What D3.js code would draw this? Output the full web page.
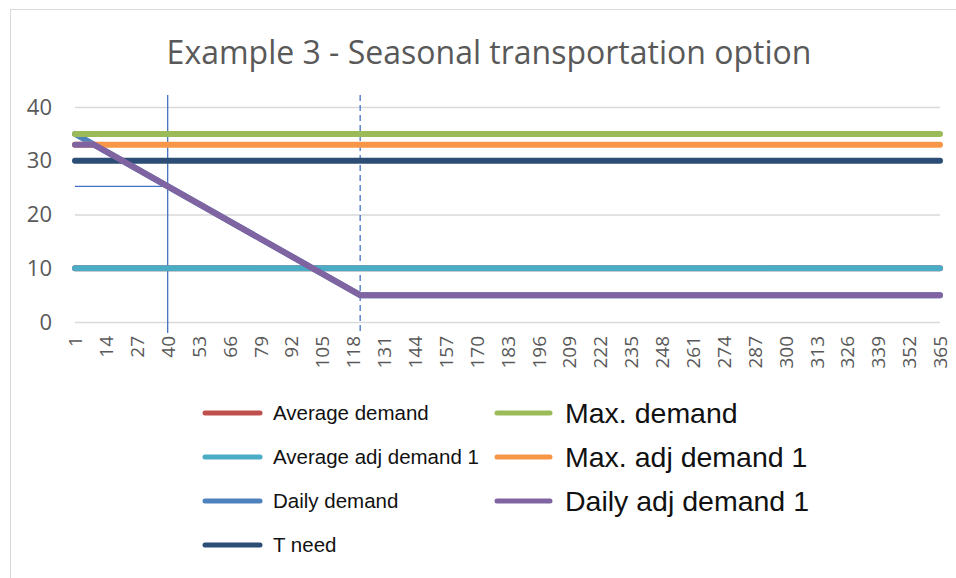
<!DOCTYPE html>
<html>
<head>
<meta charset="utf-8">
<script src="https://cdn.jsdelivr.net/npm/d3@7"></script>
<style>
  body { margin: 0; background: #fff; }
  svg { display: block; }
</style>
</head>
<body>
<div id="chart"></div>
<script>
// Chart values
var title = "Example 3 - Seasonal transportation option";
var xTicks = [1, 14, 27, 40, 53, 66, 79, 92, 105, 118, 131, 144, 157, 170, 183, 196, 209, 222,
              235, 248, 261, 274, 287, 300, 313, 326, 339, 352, 365];
var yTicks = [0, 10, 20, 30, 40];

// series as [day, value] breakpoints
var averageDemand = [[1, 10], [365, 10]];
var averageAdjDemand = [[1, 10], [365, 10]];
var dailyDemand = [[1, 35], [121, 5], [365, 5]];
var tNeed = [[1, 30], [365, 30]];
var maxDemand = [[1, 35], [365, 35]];
var maxAdjDemand = [[1, 33], [365, 33]];
var dailyAdjDemand = [[1, 33], [9, 33], [121, 5], [365, 5]];

// marker lines
var markerDay = 40, markerValue = 25.25, switchDay = 121;

var series = [
  {name: "Average demand", color: "#C0504D", data: averageDemand, big: false},
  {name: "Average adj demand 1", color: "#4BACC6", data: averageAdjDemand, big: false},
  {name: "Daily demand", color: "#4F81BD", data: dailyDemand, big: false},
  {name: "T need", color: "#2C4D75", data: tNeed, big: false},
  {name: "Max. demand", color: "#9BBB59", data: maxDemand, big: true},
  {name: "Max. adj demand 1", color: "#F79646", data: maxAdjDemand, big: true},
  {name: "Daily adj demand 1", color: "#8064A2", data: dailyAdjDemand, big: true}
];

var w = 956, h = 578;
var margin = {top: 107, right: 16, bottom: 256, left: 75};
var width = w - margin.left - margin.right;
var height = h - margin.top - margin.bottom;

var svg = d3.select("#chart").append("svg")
  .attr("width", w)
  .attr("height", h);

// chart border
svg.append("rect")
  .attr("x", 10.5).attr("y", 9.5)
  .attr("width", 960).attr("height", 600)
  .attr("fill", "#fff")
  .attr("stroke", "#d9d9d9");

svg.append("text")
  .attr("x", 489).attr("y", 64)
  .attr("text-anchor", "middle")
  .attr("font-family", "Open Sans")
  .attr("font-size", "32px")
  .attr("fill", "#595959")
  .text(title);

var g = svg.append("g")
  .attr("transform", "translate(" + margin.left + "," + margin.top + ")");

var x = d3.scaleLinear().domain([1, 365]).range([0, width]);
var y = d3.scaleLinear().domain([0, 40]).range([height, 0]);

// gridlines
g.append("g")
  .call(d3.axisLeft(y).tickValues(yTicks).tickSize(-width).tickFormat(""))
  .call(function(a) {
    a.select(".domain").remove();
    a.selectAll("line").attr("stroke", "#d9d9d9").attr("stroke-width", 1.5);
  });

// y labels
g.append("g")
  .call(d3.axisLeft(y).tickValues(yTicks).tickSize(0).tickPadding(23))
  .call(function(a) {
    a.select(".domain").remove();
    a.selectAll("text")
      .attr("font-family", "Open Sans")
      .attr("font-size", "22px")
      .attr("fill", "#595959");
  });

// x labels
g.append("g")
  .attr("transform", "translate(0," + height + ")")
  .call(d3.axisBottom(x).tickValues(xTicks).tickSize(0).tickFormat(d3.format("d")))
  .call(function(a) {
    a.select(".domain").remove();
    a.selectAll("text")
      .attr("font-family", "Open Sans")
      .attr("font-size", "19px")
      .attr("fill", "#595959")
      .attr("transform", "rotate(-90)")
      .attr("x", -14)
      .attr("y", 0)
      .attr("dy", "0.35em")
      .style("text-anchor", "end");
  });

var line = d3.line()
  .x(function(d) { return x(d[0]); })
  .y(function(d) { return y(d[1]); });

// marker lines
g.append("line")
  .attr("x1", x(1)).attr("x2", x(markerDay))
  .attr("y1", y(markerValue)).attr("y2", y(markerValue))
  .attr("stroke", "#4472C4").attr("stroke-width", 1.3);

g.append("line")
  .attr("x1", x(markerDay)).attr("x2", x(markerDay))
  .attr("y1", -12).attr("y2", height + 11)
  .attr("stroke", "#4472C4").attr("stroke-width", 1.3);

g.append("line")
  .attr("x1", x(switchDay)).attr("x2", x(switchDay))
  .attr("y1", -12).attr("y2", height + 11)
  .attr("stroke", "#4472C4").attr("stroke-width", 1.3)
  .attr("stroke-dasharray", "6,4");

// series
g.selectAll(".series")
  .data(series)
  .enter()
  .append("path")
    .attr("class", "series")
    .attr("d", function(d) { return line(d.data); })
    .attr("fill", "none")
    .attr("stroke", function(d) { return d.color; })
    .attr("stroke-width", 6)
    .attr("stroke-linecap", "round")
    .attr("stroke-linejoin", "round");

// legend
var legend = svg.selectAll(".legend")
  .data(series)
  .enter()
  .append("g")
    .attr("class", "legend")
    .attr("transform", function(d, i) {
      return i < 4 ? "translate(205," + (413 + i * 44) + ")"
                   : "translate(497," + (413 + (i - 4) * 44) + ")";
    });

legend.append("line")
  .attr("x1", 0).attr("x2", function(d) { return d.big ? 53 : 55; })
  .attr("y1", 0).attr("y2", 0)
  .attr("stroke", function(d) { return d.color; })
  .attr("stroke-width", 5)
  .attr("stroke-linecap", "round");

legend.append("text")
  .attr("x", 68)
  .attr("y", 0)
  .attr("dy", "0.35em")
  .attr("font-family", "Liberation Sans, Arial")
  .attr("font-size", function(d) { return d.big ? "28.5px" : "20.5px"; })
  .attr("fill", "#111")
  .text(function(d) { return d.name; });
</script>
</body>
</html>
